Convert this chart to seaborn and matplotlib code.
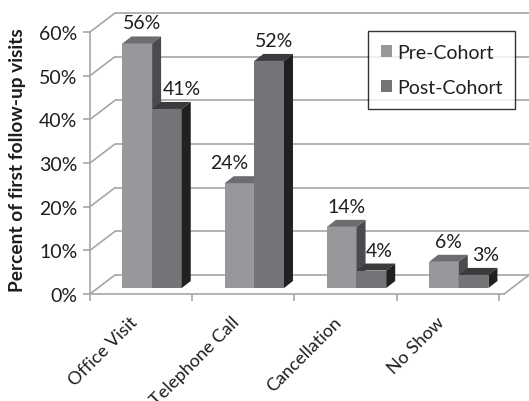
import numpy as np
import pandas as pd
import matplotlib
matplotlib.use("Agg")
import matplotlib.pyplot as plt
import matplotlib.transforms as mtransforms
from matplotlib.patches import Polygon, Patch
from matplotlib.lines import Line2D
import seaborn as sns

# chart data
categories = ["Office Visit", "Telephone Call", "Cancellation", "No Show"]
cohorts = ["Pre-Cohort", "Post-Cohort"]
pre_values = [0.56, 0.24, 0.14, 0.06]
post_values = [0.41, 0.52, 0.04, 0.03]
y_ticks = [0.0, 0.1, 0.2, 0.3, 0.4, 0.5, 0.6]

# face colours: front, top, side
pre_colors = ("#97989c", "#6c6d71", "#4b4b4e")
post_colors = ("#737477", "#3b3b3d", "#231f20")
grid_color = "#a6a6a6"
text_color = "#1e1e1e"
FS = 14

DPI = 100
BAR_OFF = (11, 6)    # px: bars sit a little behind the front plane
DEPTH = (9, 7)       # px: depth of each bar
WALL = (25, 19)      # px: back wall offset
# horizontal label nudges in px (pre bars, then post bars), as Excel placed them
label_nudge = [0, -15, 0, 0, 10, 0, 3, 8]


def shift(dx, dy):
    return mtransforms.ScaledTranslation(dx / DPI, dy / DPI, fig.dpi_scale_trans)


df = pd.DataFrame({
    "category": categories * 2,
    "value": pre_values + post_values,
    "cohort": [cohorts[0]] * 4 + [cohorts[1]] * 4,
})

sns.set_style("white")
plt.rcParams["font.family"] = ["Lato", "DejaVu Sans"]

fig = plt.figure(figsize=(5.29, 4.02), dpi=DPI)
W, H = 529, 402
ax = fig.add_axes([90 / W, (H - 295) / H, 414 / W, 262 / H])

sns.barplot(data=df, x="category", y="value", hue="cohort",
            palette=[pre_colors[0], post_colors[0]], saturation=1,
            width=0.58, gap=0, linewidth=0, legend=False, ax=ax)

ax.set_xlim(-0.5, 3.55)
ax.set_ylim(0, 0.6)
ax.set_xlabel("")
ax.set_ylabel("Percent of first follow-up visits", fontsize=13.8,
              fontweight="bold", color=text_color)
ax.yaxis.set_label_coords(-64 / 414, 0.515)

# axes styling
for s in ["top", "right"]:
    ax.spines[s].set_visible(False)
for s in ["left", "bottom"]:
    ax.spines[s].set_color(grid_color)
    ax.spines[s].set_linewidth(1.2)

ax.set_yticks(y_ticks)
ax.set_yticklabels([f"{int(round(v * 100))}%" for v in y_ticks])
ax.tick_params(axis="y", length=5, width=1.2, color=grid_color,
               labelsize=FS, labelcolor=text_color, pad=4, left=True)
ax.set_xticks(range(len(categories)))
ax.set_xticklabels(categories, rotation=45, ha="right", rotation_mode="anchor")
ax.set_xticks(np.arange(-0.5, len(categories), 1.0), minor=True)
ax.tick_params(axis="x", which="major", length=0, labelsize=13,
               labelcolor=text_color, pad=14)
ax.tick_params(axis="x", which="minor", length=5, width=1.2,
               color=grid_color, bottom=True)
for lab in ax.get_xticklabels():
    lab.set_transform(lab.get_transform() + shift(-12, 0))

# back wall gridlines and side wall diagonals
ident = mtransforms.IdentityTransform()
x_lo, x_hi = ax.get_xlim()
ax.hlines(y_ticks, x_lo, x_hi, colors=grid_color, linewidth=1.2,
          transform=ax.transData + shift(*WALL), clip_on=False, zorder=1)
corners = [(x_lo, v) for v in y_ticks] + [(x_hi, 0.0)]
for pt in corners:
    px, py = ax.transData.transform(pt)
    ax.add_artist(Line2D([px, px + WALL[0]], [py, py + WALL[1]],
                         color=grid_color, linewidth=1.2, transform=ident,
                         clip_on=False, zorder=1))

# 3D faces for the bars (patches come as all pre bars, then all post bars)
n = len(categories)
for k, p in enumerate(list(ax.patches)):
    series = k // n
    cols = pre_colors if series == 0 else post_colors
    z = 3 + series
    p.set_zorder(z)
    p.set_transform(ax.transData + shift(*BAR_OFF))
    x0, w, h = p.get_x(), p.get_width(), p.get_height()
    (lx, ty), (rx, by) = ax.transData.transform([(x0, h), (x0 + w, 0)])
    lx += BAR_OFF[0]; rx += BAR_OFF[0]
    ty += BAR_OFF[1]; by += BAR_OFF[1]
    dx, dy = DEPTH
    top = Polygon([(lx, ty), (rx, ty), (rx + dx, ty + dy), (lx + dx, ty + dy)],
                  closed=True, facecolor=cols[1], edgecolor="none",
                  transform=ident, clip_on=False, zorder=z + 0.1)
    side = Polygon([(rx, by), (rx, ty), (rx + dx, ty + dy), (rx + dx, by + dy)],
                   closed=True, facecolor=cols[2], edgecolor="none",
                   transform=ident, clip_on=False, zorder=z + 0.1)
    ax.add_artist(top)
    ax.add_artist(side)
    ax.annotate(f"{int(round(h * 100))}%", xy=(x0 + w / 2, h), xycoords="data",
                xytext=(BAR_OFF[0] + dx / 2 + label_nudge[k], BAR_OFF[1] + dy + 8),
                textcoords="offset pixels", ha="center", va="baseline",
                fontsize=FS, color=text_color, zorder=6,
                annotation_clip=False)

# legend
handles = [Patch(facecolor=pre_colors[0], edgecolor="none"),
           Patch(facecolor=post_colors[0], edgecolor="none")]
leg = fig.legend(handles, cohorts, loc="upper left",
                 bbox_to_anchor=(368 / W, 1 - 32 / H), fontsize=FS,
                 frameon=True, fancybox=False, edgecolor="black",
                 handlelength=0.6, handleheight=0.6, handletextpad=0.25,
                 labelspacing=0.95, borderpad=0.65, borderaxespad=0)
leg.get_frame().set_linewidth(1.0)
for t in leg.get_texts():
    t.set_color(text_color)

fig.savefig("out.png", dpi=DPI)
